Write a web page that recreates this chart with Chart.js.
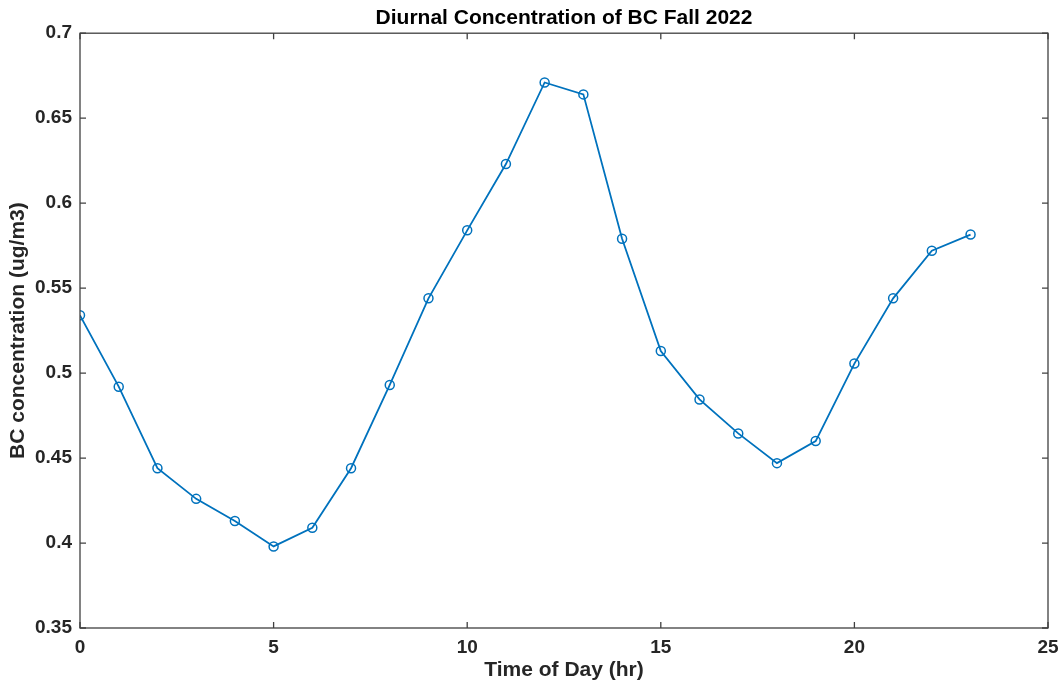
<!DOCTYPE html>
<html>
<head>
<meta charset="utf-8">
<script src="https://cdn.jsdelivr.net/npm/chart.js@4/dist/chart.umd.min.js"></script>
<style>
  html, body { margin: 0; padding: 0; background: #fff; }
  #wrap { width: 1062px; height: 687px; }
</style>
</head>
<body>
<div id="wrap"><canvas id="bc-chart"></canvas></div>
<script>
const hours = [0, 1, 2, 3, 4, 5, 6, 7, 8, 9, 10, 11, 12, 13, 14, 15, 16, 17, 18, 19, 20, 21, 22, 23]
const bcConc = [0.534, 0.492, 0.444, 0.426, 0.413, 0.398, 0.409, 0.444, 0.493, 0.544, 0.584, 0.623,
                0.671, 0.664, 0.579, 0.513, 0.4845, 0.4645, 0.447, 0.460, 0.5056, 0.544, 0.572, 0.5815]
const xTicks = [0, 5, 10, 15, 20, 25]
const yTicks = [0.35, 0.4, 0.45, 0.5, 0.55, 0.6, 0.65, 0.7]

const axisColor = '#262626'
const fontFamily = '"Liberation Sans", Arial, Helvetica, sans-serif'

// MATLAB-like box with inward ticks on all four sides
const boxTicks = {
    id: 'boxTicks',
    afterDatasetsDraw(chart) {
        const {ctx, chartArea: a, scales: {x, y}} = chart
        const len = 6
        ctx.save()
        ctx.strokeStyle = '#404040'
        ctx.lineWidth = 1.3
        ctx.strokeRect(a.left, a.top, a.right - a.left, a.bottom - a.top)
        ctx.beginPath()
        xTicks.forEach(t => {
            const px = x.getPixelForValue(t)
            ctx.moveTo(px, a.bottom); ctx.lineTo(px, a.bottom - len)
            ctx.moveTo(px, a.top); ctx.lineTo(px, a.top + len)
        })
        yTicks.forEach(t => {
            const py = y.getPixelForValue(t)
            ctx.moveTo(a.left, py); ctx.lineTo(a.left + len, py)
            ctx.moveTo(a.right, py); ctx.lineTo(a.right - len, py)
        })
        ctx.stroke()
        ctx.restore()
    }
}

new Chart(document.querySelector('#bc-chart').getContext('2d'), {
    type: 'line',
    data: {
        datasets: [{
            data: hours.map((h, i) => ({x: h, y: bcConc[i]})),
            borderColor: '#0072BD',
            borderWidth: 1.8,
            pointStyle: 'circle',
            pointRadius: 4.5,
            pointBorderWidth: 1.5,
            pointBorderColor: '#0072BD',
            pointBackgroundColor: 'rgba(0,0,0,0)',
            tension: 0
        }]
    },
    options: {
        responsive: true,
        maintainAspectRatio: false,
        animation: false,
        layout: {padding: {top: 0, right: 14, left: 0, bottom: 0}},
        plugins: {
            legend: {display: false},
            tooltip: {enabled: false},
            title: {
                display: true,
                text: 'Diurnal Concentration of BC Fall 2022',
                fullSize: false,
                color: '#000',
                font: {family: fontFamily, size: 21, weight: 'bold'},
                padding: {top: 6, bottom: 2}
            }
        },
        scales: {
            x: {
                type: 'linear',
                min: 0,
                max: 25,
                afterBuildTicks: s => { s.ticks = xTicks.map(v => ({value: v})) },
                afterFit: s => { s.height = 59; s.paddingRight = 0; s.paddingLeft = 0 },
                grid: {display: false, drawTicks: false},
                border: {display: false},
                ticks: {
                    color: axisColor,
                    padding: 8,
                    maxRotation: 0,
                    font: {family: fontFamily, size: 19, weight: 'bold'}
                },
                title: {
                    display: true,
                    text: 'Time of Day (hr)',
                    color: axisColor,
                    font: {family: fontFamily, size: 21, weight: 'bold'},
                    padding: {top: 0, bottom: 4}
                }
            },
            y: {
                min: 0.35,
                max: 0.7,
                afterBuildTicks: s => { s.ticks = yTicks.map(v => ({value: v})) },
                afterFit: s => { s.width = 80; s.paddingTop = 0; s.paddingBottom = 0 },
                grid: {display: false, drawTicks: false},
                border: {display: false},
                ticks: {
                    color: axisColor,
                    padding: 8,
                    callback: v => String(+v.toFixed(2)),
                    font: {family: fontFamily, size: 19, weight: 'bold'}
                },
                title: {
                    display: true,
                    text: 'BC concentration (ug/m3)',
                    color: axisColor,
                    font: {family: fontFamily, size: 21, weight: 'bold'},
                    padding: {top: 6, bottom: 0}
                }
            }
        }
    },
    plugins: [boxTicks]
})
</script>
</body>
</html>
